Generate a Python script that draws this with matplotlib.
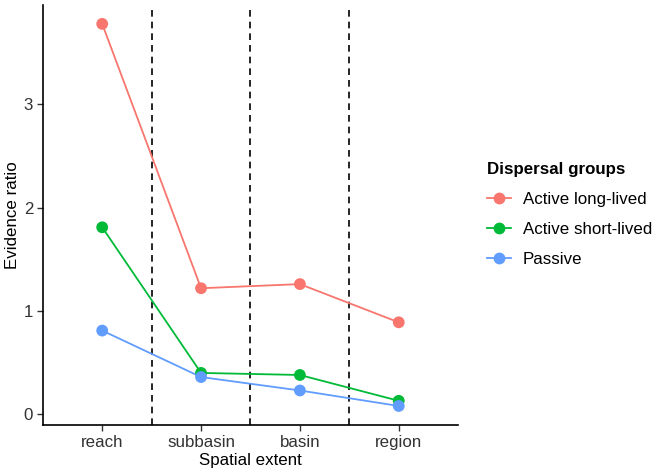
import matplotlib
matplotlib.use("Agg")
import matplotlib.pyplot as plt
from matplotlib.lines import Line2D

plt.rcParams['font.family'] = ['Liberation Sans', 'DejaVu Sans']

categories = ["reach", "subbasin", "basin", "region"]
groups = ["Active long-lived", "Active short-lived", "Passive"]
long_lived = [3.78, 1.22, 1.26, 0.89]
short_lived = [1.81, 0.40, 0.38, 0.13]
passive = [0.81, 0.36, 0.23, 0.08]
colors = ["#F8766D", "#00BA38", "#619CFF"]

fig = plt.figure(figsize=(6.6, 4.76), dpi=100)
ax = fig.add_axes([0.065, 0.107, 0.629, 0.883])

x = list(range(1, len(categories) + 1))
handles = []
for vals, c, g in zip([long_lived, short_lived, passive], colors, groups):
    ax.plot(x, vals, color=c, lw=1.3, zorder=3)
    ax.scatter(x, vals, color=c, s=72, zorder=4, edgecolors='none')
    handles.append(Line2D([0], [0], color=c, lw=1.3, marker='o', markersize=8.5,
                          markeredgewidth=0))

for xv in [1.5, 2.5, 3.5]:
    ax.axvline(xv, color='black', ls=(0, (4, 3)), lw=1.2, zorder=2)

ax.set_xlim(0.4, 4.6)
ax.set_ylim(-0.105, 3.965)
ax.set_xticks(x)
ax.set_xticklabels(categories)
ax.set_yticks([0, 1, 2, 3])
ax.tick_params(axis='both', labelsize=12.2, labelcolor='#333333', color='#333333',
               length=4, width=1, pad=3)
for s in ['top', 'right']:
    ax.spines[s].set_visible(False)
for s in ['left', 'bottom']:
    ax.spines[s].set_linewidth(1.2)
    ax.spines[s].set_color('black')
ax.set_xlabel("Spatial extent", fontsize=12.2, labelpad=2)
ax.set_ylabel("Evidence ratio", fontsize=12.2, labelpad=3)

leg = fig.legend(handles, groups, loc='upper left', bbox_to_anchor=(0.738, 0.659),
                 frameon=False, fontsize=12.2, title="Dispersal groups",
                 title_fontproperties={'weight': 'bold', 'size': 12.2},
                 handlelength=1.4, handletextpad=0.7, labelspacing=0.87,
                 borderpad=0, borderaxespad=0)
leg._legend_box.align = "left"

fig.savefig("out.png", dpi=100)
